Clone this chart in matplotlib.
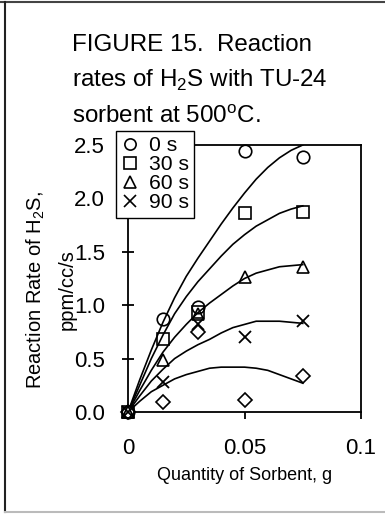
import matplotlib
matplotlib.use("Agg")
import matplotlib.pyplot as plt
from matplotlib.lines import Line2D
import numpy as np

plt.rcParams['font.family'] = ['Liberation Sans', 'DejaVu Sans']
plt.rcParams['mathtext.fontset'] = 'custom'
plt.rcParams['mathtext.rm'] = 'Liberation Sans'

# ---- data ----
x_pts = [0, 0.015, 0.03, 0.05, 0.075]
rate_0s = [0, 0.87, 0.98, 2.44, 2.39]
rate_30s = [0, 0.68, 0.94, 1.86, 1.87]
rate_60s = [0, 0.49, 0.92, 1.26, 1.36]
rate_90s = [0, 0.28, 0.82, 0.70, 0.85]
rate_120s = [0, 0.09, 0.75, 0.11, 0.34]

x_fit = [0, 0.005, 0.01, 0.015, 0.02, 0.025, 0.03, 0.035, 0.04, 0.045,
         0.05, 0.055, 0.06, 0.065, 0.07, 0.075]
fit_0s = [0, 0.30, 0.58, 0.84, 1.07, 1.27, 1.44, 1.60, 1.76, 1.91,
          2.05, 2.18, 2.29, 2.38, 2.45, 2.50]
fit_30s = [0, 0.25, 0.50, 0.72, 0.92, 1.08, 1.22, 1.34, 1.46, 1.57,
           1.66, 1.74, 1.80, 1.86, 1.90, 1.93]
fit_60s = [0, 0.20, 0.39, 0.56, 0.70, 0.82, 0.93, 1.02, 1.10, 1.18,
           1.25, 1.30, 1.33, 1.36, 1.37, 1.38]
fit_90s = [0, 0.15, 0.29, 0.40, 0.50, 0.57, 0.63, 0.68, 0.74, 0.79,
           0.82, 0.85, 0.85, 0.85, 0.84, 0.83]
fit_120s = [0, 0.10, 0.19, 0.25, 0.31, 0.35, 0.38, 0.41, 0.42, 0.42,
            0.42, 0.41, 0.39, 0.35, 0.31, 0.27]

legend_labels = ['0 s', '30 s', '60 s', '90 s']
x_ticks = [0, 0.05, 0.1]
x_ticklabels = ['0', '0.05', '0.1']
y_ticks = [0.0, 0.5, 1.0, 1.5, 2.0, 2.5]
y_ticklabels = ['0.0', '0.5', '1.0', '1.5', '2.0', '2.5']

W, H = 385, 514
fig = plt.figure(figsize=(W / 100, H / 100), dpi=100)
ax = fig.add_axes([128 / W, 1 - 412 / H, (361 - 128) / W, (412 - 145) / H])

# fitted curves
for fy in [fit_0s, fit_30s, fit_60s, fit_90s, fit_120s]:
    ax.plot(x_fit, fy, color='black', lw=1.2, zorder=3)

ms = 9
series = [
    (rate_0s, 'o', ms), (rate_30s, 's', ms), (rate_60s, '^', ms),
    (rate_90s, 'x', ms), (rate_120s, 'D', 7.5),
]
for ys, m, s in series:
    if m == 'x':
        ax.plot(x_pts, ys, ls='none', marker=m, ms=s, mec='black', mew=1.3,
                zorder=5, clip_on=False)
    elif m == 'D':
        ax.plot(x_pts, ys, ls='none', marker=m, ms=s, mec='black', mfc='white',
                mew=1.2, zorder=4, clip_on=False)
    else:
        ax.plot(x_pts, ys, ls='none', marker=m, ms=s, mec='black', mfc='none',
                mew=1.2, zorder=5, clip_on=False)

ax.set_xlim(0, 0.1)
ax.set_ylim(0, 2.5)
ax.set_xticks(x_ticks)
ax.set_xticklabels(x_ticklabels)
ax.set_yticks(y_ticks)
ax.set_yticklabels(y_ticklabels)
for sp in ax.spines.values():
    sp.set_linewidth(1.3)
ax.tick_params(axis='x', direction='out', length=5, width=1.3, pad=14,
               labelsize=16)
ax.tick_params(axis='y', direction='inout', length=9, width=1.3, pad=12,
               labelsize=16)

# legend
handles = [Line2D([], [], ls='none', marker=m, ms=s * 0.9, mec='black',
                  mfc='none', mew=1.2)
           for (ys, m, s) in series[:4]]
leg = ax.legend(handles, legend_labels, loc='upper left',
                bbox_to_anchor=(116 / W, 1 - 131 / H),
                bbox_transform=fig.transFigure, fontsize=15.2,
                frameon=True, fancybox=False, edgecolor='black',
                framealpha=1, borderpad=0.25, labelspacing=0.0,
                handlelength=0.8, handletextpad=0.5, borderaxespad=0)
leg.get_frame().set_linewidth(1.0)
leg.set_zorder(10)

# title text
fig.text(72 / W, 1 - 45 / H, 'FIGURE 15.  Reaction', fontsize=17.4,
         va='center', ha='left')
fig.text(72 / W, 1 - 80 / H, r'rates of H$_\mathregular{2}$S with TU-24',
         fontsize=17.4, va='center', ha='left')
fig.text(72 / W, 1 - 117 / H, r'sorbent at 500$^\mathregular{o}$C.',
         fontsize=17.4, va='center', ha='left')

# axis labels
fig.text(51 / W, 1 - 290 / H,
         'Reaction Rate of H$_\\mathregular{2}$S,\nppm/cc/s',
         rotation=90, fontsize=14.5, va='center', ha='center',
         multialignment='center', linespacing=1.7)
fig.text(245 / W, 1 - 475 / H, 'Quantity of Sorbent, g', fontsize=13,
         va='center', ha='center')

# outer frame lines (partial border)
fig.add_artist(Line2D([0, 1], [1 - 1.5 / H] * 2, color='#444444', lw=1.5,
                      transform=fig.transFigure))
fig.add_artist(Line2D([5 / W] * 2, [1 - 1.5 / H, 1 - 512 / H],
                      color='#222222', lw=1.5, transform=fig.transFigure))
fig.add_artist(Line2D([5 / W, 1], [1 - 512 / H] * 2, color='#bbbbbb', lw=1.5,
                      transform=fig.transFigure))

fig.savefig('out.png', dpi=100)
